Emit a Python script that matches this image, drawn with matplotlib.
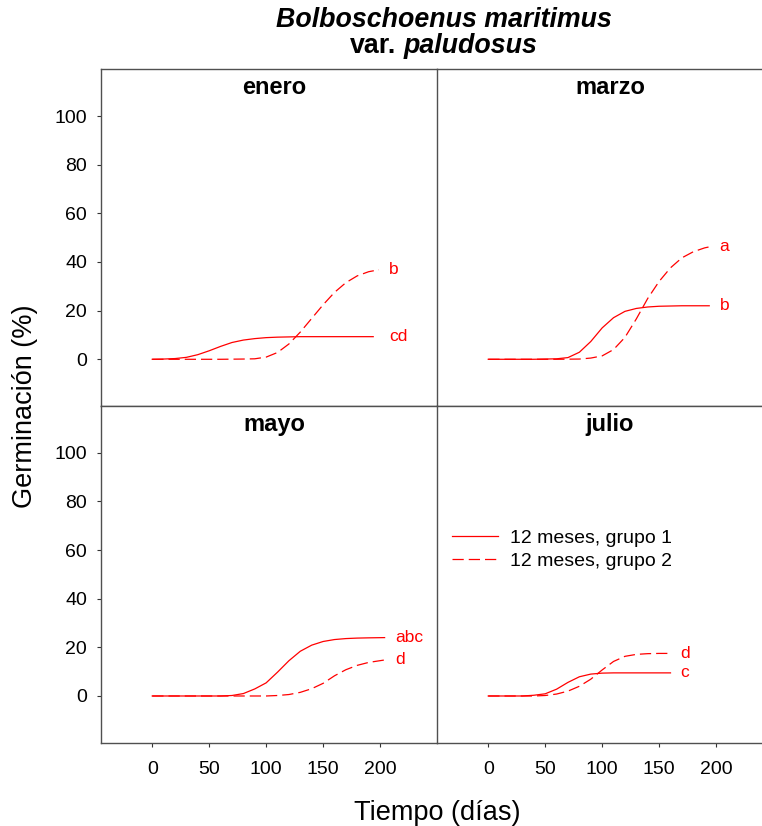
import matplotlib
matplotlib.use("Agg")
import matplotlib.pyplot as plt

plt.rcParams['font.family'] = ['Liberation Sans', 'DejaVu Sans']

# germination curves (% germinated vs days), one pair per collection month
months = ['enero', 'marzo', 'mayo', 'julio']
series_names = ['12 meses, grupo 1', '12 meses, grupo 2']

enero_days_1 = [0, 10, 20, 30, 40, 50, 60, 70, 80, 90, 100, 110, 120, 130, 140, 150, 160, 170, 180, 194]
enero_germ_1 = [0, 0.1, 0.3, 0.8, 1.9, 3.5, 5.3, 6.9, 7.9, 8.5, 8.9, 9.1, 9.2, 9.3, 9.3, 9.3, 9.3, 9.3, 9.3, 9.3]
enero_days_2 = [0, 20, 40, 60, 80, 90, 100, 110, 120, 130, 140, 150, 160, 170, 180, 190, 199]
enero_germ_2 = [0, 0, 0, 0, 0.1, 0.2, 0.9, 2.8, 6.3, 11.2, 16.8, 22.4, 27.5, 31.5, 34.3, 36.0, 36.8]

marzo_days_1 = [0, 20, 40, 60, 70, 80, 90, 100, 110, 120, 130, 140, 150, 160, 170, 180, 194]
marzo_germ_1 = [0, 0, 0, 0.2, 0.7, 2.9, 7.3, 12.9, 17.1, 19.7, 20.9, 21.5, 21.8, 21.9, 22.0, 22.0, 22.0]
marzo_days_2 = [0, 20, 40, 60, 80, 90, 100, 110, 120, 130, 140, 150, 160, 170, 180, 190, 194]
marzo_germ_2 = [0, 0, 0, 0, 0.1, 0.5, 1.4, 4.0, 9.0, 16.6, 25.0, 32.0, 37.6, 41.7, 44.2, 45.8, 46.2]

mayo_days_1 = [0, 20, 40, 60, 70, 80, 90, 100, 110, 120, 130, 140, 150, 160, 170, 180, 190, 204]
mayo_germ_1 = [0, 0, 0, 0, 0.2, 1.0, 2.9, 5.4, 9.8, 14.5, 18.4, 20.9, 22.4, 23.2, 23.6, 23.8, 23.9, 24.0]
mayo_days_2 = [0, 20, 40, 60, 80, 100, 110, 120, 130, 140, 150, 160, 170, 180, 190, 204]
mayo_germ_2 = [0, 0, 0, 0, 0, 0, 0.2, 0.6, 1.5, 3.0, 5.2, 8.3, 10.8, 12.6, 13.8, 14.8]

julio_days_1 = [0, 10, 20, 30, 40, 50, 60, 70, 80, 90, 100, 110, 120, 130, 140, 150, 160]
julio_germ_1 = [0, 0, 0, 0, 0.3, 0.9, 2.8, 5.6, 7.9, 9.0, 9.4, 9.5, 9.5, 9.5, 9.5, 9.5, 9.5]
julio_days_2 = [0, 10, 20, 30, 40, 50, 60, 70, 80, 90, 100, 110, 120, 130, 140, 150, 160]
julio_germ_2 = [0, 0, 0, 0, 0, 0.2, 0.8, 2.0, 4.0, 6.9, 10.7, 14.2, 16.3, 17.1, 17.4, 17.5, 17.5]

# letters from the multiple comparison test
letters_1 = ['cd', 'b', 'abc', 'c']
letters_2 = ['b', 'a', 'd', 'd']

curves = {
    'enero': (enero_days_1, enero_germ_1, enero_days_2, enero_germ_2),
    'marzo': (marzo_days_1, marzo_germ_1, marzo_days_2, marzo_germ_2),
    'mayo': (mayo_days_1, mayo_germ_1, mayo_days_2, mayo_germ_2),
    'julio': (julio_days_1, julio_germ_1, julio_days_2, julio_germ_2),
}

x_ticks = [0, 50, 100, 150, 200]
y_ticks = [0, 20, 40, 60, 80, 100]

red = '#ff0000'
spine_col = '#505050'

fig = plt.figure(figsize=(7.62, 8.26), dpi=100)
W, H = 762, 826
pw, ph = 336, 336.7
left0, top0 = 101, 69.3
boxes = [(left0, top0), (left0 + pw, top0), (left0, top0 + ph), (left0 + pw, top0 + ph)]

axes = []
for i, m in enumerate(months):
    x0, y0 = boxes[i]
    ax = fig.add_axes([x0 / W, 1 - (y0 + ph) / H, pw / W, ph / H])
    axes.append(ax)
    d1, g1, d2, g2 = curves[m]
    ax.plot(d1, g1, color=red, lw=0.9, label=series_names[0])
    ax.plot(d2, g2, color=red, lw=0.9, dashes=(9, 4), label=series_names[1])

    # significance letters just right of the curve ends
    lx = max(d1[-1], d2[-1]) + 9
    ax.text(lx, g1[-1], letters_1[i], color=red, fontsize=12.5, ha='left', va='center')
    ax.text(lx, g2[-1], letters_2[i], color=red, fontsize=12.5, ha='left', va='center')

    ax.set_xlim(-45, 250)
    ax.set_ylim(-19.2, 119.2)
    ax.text(0.515, 0.927, m, transform=ax.transAxes, ha='center', va='baseline',
            fontsize=17, fontweight='bold')

    for s in ax.spines.values():
        s.set_color(spine_col)
        s.set_linewidth(1.0)
    ax.spines['right'].set_visible(False)

    ax.tick_params(direction='out', length=3, width=0.8, color='#333333', labelsize=14)
    if i % 2 == 0:
        ax.set_yticks(y_ticks)
        ax.tick_params(axis='y', pad=7)
    else:
        ax.set_yticks([])
    if i >= 2:
        ax.set_xticks(x_ticks)
        ax.tick_params(axis='x', pad=10)
    else:
        ax.set_xticks([])

# legend inside the julio panel
axes[3].legend(loc='center left', bbox_to_anchor=(0.044, 0.574), frameon=False,
               fontsize=14, handlelength=2.4, handletextpad=0.6, labelspacing=0.3,
               borderpad=0, borderaxespad=0)

fig.text(0.033, 0.508, 'Germinación (%)', rotation=90, ha='center', va='center', fontsize=19.5)
fig.text(437 / W, 1 - 820 / H, 'Tiempo (días)', ha='center', va='baseline', fontsize=19.5)

# two-line title, second line mixes upright and italic
tsize = 19.3
cx = 444 / W
fig.text(cx, 1 - 27.3 / H, 'Bolboschoenus maritimus', ha='center', va='baseline',
         fontsize=tsize, fontweight='bold', fontstyle='italic')
renderer = fig.canvas.get_renderer()
t_var = fig.text(0, 1 - 52.7 / H, 'var.', ha='left', va='baseline', fontsize=tsize, fontweight='bold')
t_sp = fig.text(0, 1 - 52.7 / H, 'paludosus', ha='left', va='baseline', fontsize=tsize,
                fontweight='bold', fontstyle='italic')
w_var = t_var.get_window_extent(renderer).width
w_sp = t_sp.get_window_extent(renderer).width
gap = 0.278 * tsize * 100 / 72
start = cx * W - (w_var + gap + w_sp) / 2
t_var.set_x(start / W)
t_sp.set_x((start + w_var + gap) / W)

fig.savefig('out.png', dpi=100)
